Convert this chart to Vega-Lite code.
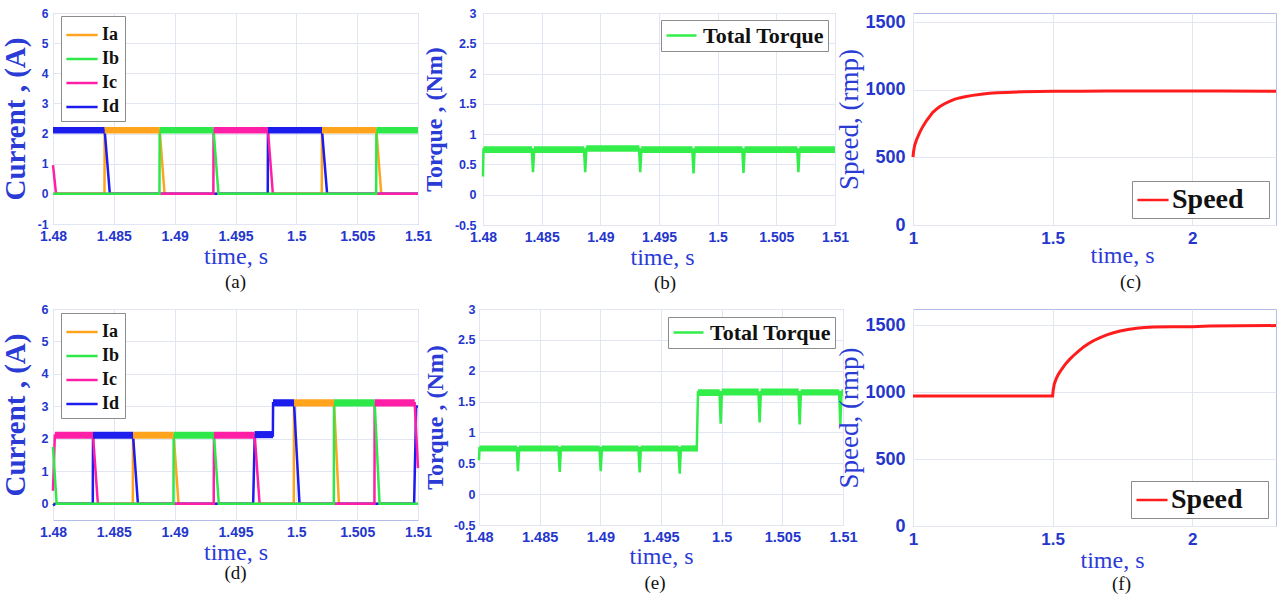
{
  "$schema": "https://vega.github.io/schema/vega-lite/v6.json",
  "background": "white",
  "padding": {"left": 0, "top": 6, "right": 0, "bottom": 0},
  "config": {
    "view": {"stroke": "#b4bdea", "strokeWidth": 1},
    "axis": {
      "grid": true, "gridColor": "#e2e6f3", "gridWidth": 1, "domain": false, "ticks": false, "tickCount": 20,
      "labelFont": "Liberation Sans", "labelFontWeight": "bold", "labelColor": "#2436cc",
      "labelFlush": false, "labelOverlap": false, "labelExpr": "'' + datum.value",
      "titleFont": "Liberation Serif", "titleColor": "#2a3bd6", "titleFontWeight": "normal"
    },
    "legend": {
      "title": null, "symbolStrokeWidth": 2.5, "labelFont": "Liberation Serif", "labelFontWeight": "bold",
      "labelColor": "#111111", "strokeColor": "#8c8c8c", "fillColor": "white", "labelLimit": 0, "direction": "vertical"
    },
    "title": {"font": "Liberation Serif", "fontSize": 19, "fontWeight": "normal", "color": "#111111", "orient": "bottom", "frame": "group", "offset": 5}
  },
  "datasets": {
    "curA": [
      {"p": "Ia", "t": 1.48, "v": 0}, {"p": "Ia", "t": 1.48423, "v": 0}, {"p": "Ia", "t": 1.48425, "v": 2.1}, {"p": "Ia", "t": 1.48877, "v": 2.1}, {"p": "Ia", "t": 1.48917, "v": 0}, {"p": "Ia", "t": 1.50209, "v": 0}, {"p": "Ia", "t": 1.50211, "v": 2.1}, {"p": "Ia", "t": 1.50658, "v": 2.1}, {"p": "Ia", "t": 1.50698, "v": 0}, {"p": "Ia", "t": 1.51, "v": 0},
      {"p": "Id", "t": 1.48, "v": 2.1}, {"p": "Id", "t": 1.48425, "v": 2.1}, {"p": "Id", "t": 1.48467, "v": 0}, {"p": "Id", "t": 1.49765, "v": 0}, {"p": "Id", "t": 1.49767, "v": 2.1}, {"p": "Id", "t": 1.50211, "v": 2.1}, {"p": "Id", "t": 1.50253, "v": 0}, {"p": "Id", "t": 1.51, "v": 0},
      {"p": "Ic", "t": 1.48, "v": 0.95}, {"p": "Ic", "t": 1.48025, "v": 0}, {"p": "Ic", "t": 1.49318, "v": 0}, {"p": "Ic", "t": 1.4932, "v": 2.1}, {"p": "Ic", "t": 1.49767, "v": 2.1}, {"p": "Ic", "t": 1.49807, "v": 0}, {"p": "Ic", "t": 1.51, "v": 0},
      {"p": "Ib", "t": 1.48, "v": 0}, {"p": "Ib", "t": 1.48875, "v": 0}, {"p": "Ib", "t": 1.48877, "v": 2.1}, {"p": "Ib", "t": 1.4932, "v": 2.1}, {"p": "Ib", "t": 1.4936, "v": 0}, {"p": "Ib", "t": 1.50656, "v": 0}, {"p": "Ib", "t": 1.50658, "v": 2.1}, {"p": "Ib", "t": 1.51, "v": 2.1}
    ],
    "bandA": [
      {"p": "Id", "t0": 1.48, "t1": 1.48425, "lo": 2.0, "hi": 2.22},
      {"p": "Ia", "t0": 1.48425, "t1": 1.48877, "lo": 2.0, "hi": 2.22},
      {"p": "Ib", "t0": 1.48877, "t1": 1.4932, "lo": 2.0, "hi": 2.22},
      {"p": "Ic", "t0": 1.4932, "t1": 1.49767, "lo": 2.0, "hi": 2.22},
      {"p": "Id", "t0": 1.49767, "t1": 1.50211, "lo": 2.0, "hi": 2.22},
      {"p": "Ia", "t0": 1.50211, "t1": 1.50658, "lo": 2.0, "hi": 2.22},
      {"p": "Ib", "t0": 1.50658, "t1": 1.51, "lo": 2.0, "hi": 2.22}
    ],
    "curD": [
      {"p": "Ia", "t": 1.48, "v": 0}, {"p": "Ia", "t": 1.48656, "v": 0}, {"p": "Ia", "t": 1.48658, "v": 2.1}, {"p": "Ia", "t": 1.48992, "v": 2.1}, {"p": "Ia", "t": 1.49032, "v": 0}, {"p": "Ia", "t": 1.49979, "v": 0}, {"p": "Ia", "t": 1.49981, "v": 3.1}, {"p": "Ia", "t": 1.5031, "v": 3.1}, {"p": "Ia", "t": 1.5035, "v": 0}, {"p": "Ia", "t": 1.51, "v": 0},
      {"p": "Id", "t": 1.48, "v": -0.05}, {"p": "Id", "t": 1.4802, "v": 0}, {"p": "Id", "t": 1.48327, "v": 0}, {"p": "Id", "t": 1.48329, "v": 2.1}, {"p": "Id", "t": 1.48658, "v": 2.1}, {"p": "Id", "t": 1.48698, "v": 0}, {"p": "Id", "t": 1.49645, "v": 0}, {"p": "Id", "t": 1.49658, "v": 2.1}, {"p": "Id", "t": 1.49807, "v": 2.1}, {"p": "Id", "t": 1.49809, "v": 3.1}, {"p": "Id", "t": 1.49981, "v": 3.1}, {"p": "Id", "t": 1.50026, "v": 0}, {"p": "Id", "t": 1.50968, "v": 0}, {"p": "Id", "t": 1.50985, "v": 3.0}, {"p": "Id", "t": 1.51, "v": 3.0},
      {"p": "Ic", "t": 1.48, "v": 0.4}, {"p": "Ic", "t": 1.48015, "v": 2.1}, {"p": "Ic", "t": 1.48329, "v": 2.1}, {"p": "Ic", "t": 1.48369, "v": 0}, {"p": "Ic", "t": 1.49321, "v": 0}, {"p": "Ic", "t": 1.49323, "v": 2.1}, {"p": "Ic", "t": 1.49658, "v": 2.1}, {"p": "Ic", "t": 1.49698, "v": 0}, {"p": "Ic", "t": 1.50642, "v": 0}, {"p": "Ic", "t": 1.50644, "v": 3.1}, {"p": "Ic", "t": 1.50973, "v": 3.1}, {"p": "Ic", "t": 1.51, "v": 1.1},
      {"p": "Ib", "t": 1.48, "v": 1.75}, {"p": "Ib", "t": 1.4803, "v": 0}, {"p": "Ib", "t": 1.4899, "v": 0}, {"p": "Ib", "t": 1.48992, "v": 2.1}, {"p": "Ib", "t": 1.49323, "v": 2.1}, {"p": "Ib", "t": 1.49363, "v": 0}, {"p": "Ib", "t": 1.50308, "v": 0}, {"p": "Ib", "t": 1.5031, "v": 3.1}, {"p": "Ib", "t": 1.50644, "v": 3.1}, {"p": "Ib", "t": 1.50684, "v": 0}, {"p": "Ib", "t": 1.51, "v": 0}
    ],
    "bandD": [
      {"p": "Ic", "t0": 1.48015, "t1": 1.48329, "lo": 2.0, "hi": 2.22},
      {"p": "Id", "t0": 1.48329, "t1": 1.48658, "lo": 2.0, "hi": 2.22},
      {"p": "Ia", "t0": 1.48658, "t1": 1.48992, "lo": 2.0, "hi": 2.22},
      {"p": "Ib", "t0": 1.48992, "t1": 1.49323, "lo": 2.0, "hi": 2.22},
      {"p": "Ic", "t0": 1.49323, "t1": 1.49658, "lo": 2.0, "hi": 2.22},
      {"p": "Id", "t0": 1.49658, "t1": 1.49808, "lo": 2.02, "hi": 2.24},
      {"p": "Id", "t0": 1.49808, "t1": 1.49981, "lo": 3.0, "hi": 3.22},
      {"p": "Ia", "t0": 1.49981, "t1": 1.5031, "lo": 3.0, "hi": 3.22},
      {"p": "Ib", "t0": 1.5031, "t1": 1.50644, "lo": 3.0, "hi": 3.22},
      {"p": "Ic", "t0": 1.50644, "t1": 1.50973, "lo": 3.0, "hi": 3.22}
    ],
    "torB": [
      {"s": "Total Torque", "t": 1.48, "v": 0.3}, {"s": "Total Torque", "t": 1.48004, "v": 0.745},
      {"s": "Total Torque", "t": 1.48416, "v": 0.745}, {"s": "Total Torque", "t": 1.48426, "v": 0.37}, {"s": "Total Torque", "t": 1.48436, "v": 0.745},
      {"s": "Total Torque", "t": 1.48861, "v": 0.745}, {"s": "Total Torque", "t": 1.48871, "v": 0.37}, {"s": "Total Torque", "t": 1.48881, "v": 0.76},
      {"s": "Total Torque", "t": 1.4933, "v": 0.76}, {"s": "Total Torque", "t": 1.4934, "v": 0.37}, {"s": "Total Torque", "t": 1.4935, "v": 0.745},
      {"s": "Total Torque", "t": 1.49784, "v": 0.745}, {"s": "Total Torque", "t": 1.49794, "v": 0.35}, {"s": "Total Torque", "t": 1.49804, "v": 0.745},
      {"s": "Total Torque", "t": 1.5021, "v": 0.745}, {"s": "Total Torque", "t": 1.5022, "v": 0.36}, {"s": "Total Torque", "t": 1.5023, "v": 0.745},
      {"s": "Total Torque", "t": 1.50678, "v": 0.745}, {"s": "Total Torque", "t": 1.50688, "v": 0.37}, {"s": "Total Torque", "t": 1.50698, "v": 0.745},
      {"s": "Total Torque", "t": 1.51, "v": 0.745}
    ],
    "bandB": [
      {"t0": 1.48004, "t1": 1.48418, "lo": 0.69, "hi": 0.8},
      {"t0": 1.48434, "t1": 1.48863, "lo": 0.69, "hi": 0.8},
      {"t0": 1.48879, "t1": 1.49332, "lo": 0.71, "hi": 0.815},
      {"t0": 1.49348, "t1": 1.49786, "lo": 0.69, "hi": 0.8},
      {"t0": 1.49802, "t1": 1.50212, "lo": 0.69, "hi": 0.8},
      {"t0": 1.50228, "t1": 1.5068, "lo": 0.69, "hi": 0.8},
      {"t0": 1.50696, "t1": 1.51, "lo": 0.69, "hi": 0.8}
    ],
    "torE": [
      {"s": "Total Torque", "t": 1.48, "v": 0.55}, {"s": "Total Torque", "t": 1.48004, "v": 0.745},
      {"s": "Total Torque", "t": 1.48311, "v": 0.745}, {"s": "Total Torque", "t": 1.48321, "v": 0.37}, {"s": "Total Torque", "t": 1.48331, "v": 0.745},
      {"s": "Total Torque", "t": 1.48655, "v": 0.745}, {"s": "Total Torque", "t": 1.48665, "v": 0.36}, {"s": "Total Torque", "t": 1.48675, "v": 0.745},
      {"s": "Total Torque", "t": 1.48993, "v": 0.745}, {"s": "Total Torque", "t": 1.49003, "v": 0.37}, {"s": "Total Torque", "t": 1.49013, "v": 0.745},
      {"s": "Total Torque", "t": 1.49314, "v": 0.745}, {"s": "Total Torque", "t": 1.49324, "v": 0.35}, {"s": "Total Torque", "t": 1.49334, "v": 0.745},
      {"s": "Total Torque", "t": 1.49644, "v": 0.745}, {"s": "Total Torque", "t": 1.49654, "v": 0.33}, {"s": "Total Torque", "t": 1.49664, "v": 0.745},
      {"s": "Total Torque", "t": 1.49795, "v": 0.745}, {"s": "Total Torque", "t": 1.49805, "v": 1.65},
      {"s": "Total Torque", "t": 1.49982, "v": 1.65}, {"s": "Total Torque", "t": 1.49992, "v": 1.14}, {"s": "Total Torque", "t": 1.50002, "v": 1.65},
      {"s": "Total Torque", "t": 1.50303, "v": 1.65}, {"s": "Total Torque", "t": 1.50313, "v": 1.16}, {"s": "Total Torque", "t": 1.50323, "v": 1.65},
      {"s": "Total Torque", "t": 1.50633, "v": 1.65}, {"s": "Total Torque", "t": 1.50643, "v": 1.13}, {"s": "Total Torque", "t": 1.50653, "v": 1.65},
      {"s": "Total Torque", "t": 1.50968, "v": 1.65}, {"s": "Total Torque", "t": 1.50978, "v": 1.13}, {"s": "Total Torque", "t": 1.50988, "v": 1.65},
      {"s": "Total Torque", "t": 1.51, "v": 1.65}
    ],
    "bandE": [
      {"t0": 1.48004, "t1": 1.48313, "lo": 0.69, "hi": 0.79},
      {"t0": 1.48329, "t1": 1.48657, "lo": 0.69, "hi": 0.79},
      {"t0": 1.48673, "t1": 1.48995, "lo": 0.69, "hi": 0.79},
      {"t0": 1.49011, "t1": 1.49316, "lo": 0.69, "hi": 0.79},
      {"t0": 1.49332, "t1": 1.49646, "lo": 0.69, "hi": 0.79},
      {"t0": 1.49662, "t1": 1.49805, "lo": 0.69, "hi": 0.79},
      {"t0": 1.49805, "t1": 1.49984, "lo": 1.59, "hi": 1.7},
      {"t0": 1.5, "t1": 1.50305, "lo": 1.6, "hi": 1.71},
      {"t0": 1.50321, "t1": 1.50635, "lo": 1.6, "hi": 1.71},
      {"t0": 1.50651, "t1": 1.5097, "lo": 1.6, "hi": 1.7},
      {"t0": 1.50986, "t1": 1.51, "lo": 1.6, "hi": 1.7}
    ],
    "spdC": [
      {"s": "Speed", "t": 1.0, "v": 502}, {"s": "Speed", "t": 1.002, "v": 545}, {"s": "Speed", "t": 1.006, "v": 590}, {"s": "Speed", "t": 1.012, "v": 628},
      {"s": "Speed", "t": 1.024, "v": 686}, {"s": "Speed", "t": 1.036, "v": 732}, {"s": "Speed", "t": 1.048, "v": 772}, {"s": "Speed", "t": 1.06, "v": 805},
      {"s": "Speed", "t": 1.071, "v": 834}, {"s": "Speed", "t": 1.083, "v": 857}, {"s": "Speed", "t": 1.095, "v": 876}, {"s": "Speed", "t": 1.113, "v": 898},
      {"s": "Speed", "t": 1.131, "v": 916}, {"s": "Speed", "t": 1.148, "v": 930}, {"s": "Speed", "t": 1.166, "v": 941}, {"s": "Speed", "t": 1.19, "v": 952},
      {"s": "Speed", "t": 1.214, "v": 960}, {"s": "Speed", "t": 1.244, "v": 968}, {"s": "Speed", "t": 1.274, "v": 975}, {"s": "Speed", "t": 1.303, "v": 979},
      {"s": "Speed", "t": 1.333, "v": 982}, {"s": "Speed", "t": 1.393, "v": 987}, {"s": "Speed", "t": 1.45, "v": 989}, {"s": "Speed", "t": 1.5, "v": 990},
      {"s": "Speed", "t": 1.6, "v": 991}, {"s": "Speed", "t": 1.69, "v": 992}, {"s": "Speed", "t": 1.9, "v": 992}, {"s": "Speed", "t": 2.1, "v": 992}, {"s": "Speed", "t": 2.3, "v": 991}
    ],
    "spdF": [
      {"s": "Speed", "t": 1.0, "v": 971}, {"s": "Speed", "t": 1.5, "v": 971}, {"s": "Speed", "t": 1.502, "v": 1012}, {"s": "Speed", "t": 1.506, "v": 1061},
      {"s": "Speed", "t": 1.513, "v": 1100}, {"s": "Speed", "t": 1.521, "v": 1134}, {"s": "Speed", "t": 1.533, "v": 1172}, {"s": "Speed", "t": 1.545, "v": 1207},
      {"s": "Speed", "t": 1.56, "v": 1242}, {"s": "Speed", "t": 1.575, "v": 1273}, {"s": "Speed", "t": 1.593, "v": 1306}, {"s": "Speed", "t": 1.611, "v": 1337},
      {"s": "Speed", "t": 1.628, "v": 1361}, {"s": "Speed", "t": 1.646, "v": 1383}, {"s": "Speed", "t": 1.67, "v": 1407}, {"s": "Speed", "t": 1.694, "v": 1427},
      {"s": "Speed", "t": 1.718, "v": 1443}, {"s": "Speed", "t": 1.742, "v": 1456}, {"s": "Speed", "t": 1.77, "v": 1467}, {"s": "Speed", "t": 1.801, "v": 1476},
      {"s": "Speed", "t": 1.83, "v": 1481}, {"s": "Speed", "t": 1.861, "v": 1485}, {"s": "Speed", "t": 1.93, "v": 1487}, {"s": "Speed", "t": 2.0, "v": 1488},
      {"s": "Speed", "t": 2.063, "v": 1493}, {"s": "Speed", "t": 2.17, "v": 1495}, {"s": "Speed", "t": 2.3, "v": 1496}
    ]
  },
  "spacing": 8,
  "resolve": {"scale": {"x": "independent", "y": "independent", "color": "independent", "fill": "independent"}, "legend": {"color": "independent"}, "axis": {"x": "independent", "y": "independent"}},
  "vconcat": [
    {
      "spacing": -15,
      "resolve": {"scale": {"x": "independent", "y": "independent", "color": "independent", "fill": "independent"}, "legend": {"color": "independent"}},
      "hconcat": [
        {
          "spacing": -12,
          "resolve": {"scale": {"x": "independent", "y": "independent", "color": "independent", "fill": "independent"}, "legend": {"color": "independent"}},
          "hconcat": [
            {
              "width": 365, "height": 211,
              "title": {"text": "(a)"},
              "layer": [
                {
                  "data": {"name": "curA"},
                  "mark": {"type": "line", "strokeWidth": 2.5},
                  "encoding": {
                    "x": {"field": "t", "type": "quantitative", "title": "time, s", "scale": {"domain": [1.48, 1.51], "nice": false, "zero": false},
                      "axis": {"values": [1.48, 1.485, 1.49, 1.495, 1.5, 1.505, 1.51], "tickCount": 20, "labelOverlap": false, "labelFontSize": 14, "labelPadding": 5, "titleFontSize": 24, "titlePadding": 1}},
                    "y": {"field": "v", "type": "quantitative", "title": "Current , (A)", "scale": {"domain": [-1, 6], "nice": false, "zero": false},
                      "axis": {"values": [-1, 0, 1, 2, 3, 4, 5, 6], "tickCount": 20, "labelOverlap": false, "labelFontSize": 12, "labelPadding": 5, "titleFontSize": 29, "titleFontWeight": "bold", "titlePadding": 7}},
                    "color": {"field": "p", "type": "nominal", "scale": {"domain": ["Ia", "Ib", "Ic", "Id"], "range": ["#ffa41c", "#2ee84a", "#ff1fa6", "#1c1ced"]},
                      "legend": {"orient": "none", "legendX": 8, "legendY": 3, "symbolType": "M-1.25,0H1.25", "symbolSize": 625, "symbolOffset": 2, "labelOffset": 6, "labelFontSize": 18, "rowPadding": 1, "padding": 5, "labelExpr": "datum.label + '\u00a0'"}}
                  }
                },
                {
                  "data": {"name": "bandA"},
                  "mark": {"type": "rect"},
                  "encoding": {
                    "x": {"field": "t0", "type": "quantitative", "title": "time, s"}, "x2": {"field": "t1"},
                    "y": {"field": "lo", "type": "quantitative", "title": "Current , (A)"}, "y2": {"field": "hi"},
                    "fill": {"field": "p", "type": "nominal", "scale": {"domain": ["Ia", "Ib", "Ic", "Id"], "range": ["#ffa41c", "#2ee84a", "#ff1fa6", "#1c1ced"]}, "legend": null}
                  }
                }
              ]
            },
            {
              "width": 352, "height": 212,
              "title": {"text": "(b)", "dx": 6},
              "layer": [
                {
                  "data": {"name": "torB"},
                  "mark": {"type": "line", "strokeWidth": 2.5},
                  "encoding": {
                    "x": {"field": "t", "type": "quantitative", "title": "time, s", "scale": {"domain": [1.48, 1.51], "nice": false, "zero": false},
                      "axis": {"values": [1.48, 1.485, 1.49, 1.495, 1.5, 1.505, 1.51], "tickCount": 20, "labelOverlap": false, "labelFontSize": 14, "labelPadding": 5, "titleFontSize": 24, "titlePadding": 1, "titleX": 179}},
                    "y": {"field": "v", "type": "quantitative", "title": "Torque , (Nm)", "scale": {"domain": [-0.5, 3], "nice": false, "zero": false},
                      "axis": {"values": [-0.5, 0, 0.5, 1, 1.5, 2, 2.5, 3], "tickCount": 20, "labelOverlap": false, "labelFontSize": 12.5, "labelPadding": 7, "titleFontSize": 24, "titleFontWeight": "bold", "titlePadding": 8}},
                    "color": {"field": "s", "type": "nominal", "scale": {"domain": ["Total Torque"], "range": ["#33ee4a"]},
                      "legend": {"orient": "top-right", "offset": 7, "symbolType": "M-1.5,0H1.5", "symbolSize": 400, "symbolOffset": 5, "labelOffset": 10, "labelFontSize": 22, "padding": 4}}
                  }
                },
                {
                  "data": {"name": "bandB"},
                  "mark": {"type": "rect", "color": "#33ee4a"},
                  "encoding": {
                    "x": {"field": "t0", "type": "quantitative", "title": "time, s"}, "x2": {"field": "t1"},
                    "y": {"field": "lo", "type": "quantitative", "title": "Torque , (Nm)"}, "y2": {"field": "hi"}
                  }
                }
              ]
            }
          ]
        },
        {
          "width": 363, "height": 212,
          "title": {"text": "(c)", "dx": 36, "offset": 6},
          "data": {"name": "spdC"},
          "mark": {"type": "line", "strokeWidth": 3},
          "encoding": {
            "x": {"field": "t", "type": "quantitative", "title": "time, s", "scale": {"domain": [1, 2.3], "nice": false, "zero": false},
              "axis": {"values": [1, 1.5, 2], "labelOverlap": false, "labelFontSize": 17, "labelPadding": 5, "titleFontSize": 24, "titlePadding": -3, "titleX": 209}},
            "y": {"field": "v", "type": "quantitative", "title": "Speed, (rmp)", "scale": {"domain": [0, 1570], "nice": false, "zero": false},
              "axis": {"values": [0, 500, 1000, 1500], "labelOverlap": false, "labelFontSize": 18, "labelPadding": 8, "titleFontSize": 27, "titlePadding": 1}},
            "color": {"field": "s", "type": "nominal", "scale": {"domain": ["Speed"], "range": ["#ff1c1c"]},
              "legend": {"orient": "bottom-right", "offset": 7, "symbolType": "M-1.15,0H1.15", "symbolSize": 729, "symbolOffset": 2, "labelOffset": 4, "labelFontSize": 28, "padding": 4, "labelExpr": "datum.label + '\u2800'"}}
          }
        }
      ]
    },
    {
      "spacing": -23,
      "resolve": {"scale": {"x": "independent", "y": "independent", "color": "independent", "fill": "independent"}, "legend": {"color": "independent"}},
      "hconcat": [
        {
          "spacing": -11,
          "resolve": {"scale": {"x": "independent", "y": "independent", "color": "independent", "fill": "independent"}, "legend": {"color": "independent"}},
          "hconcat": [
            {
              "width": 365, "height": 211,
              "title": {"text": "(d)", "offset": 0},
              "layer": [
                {
                  "data": {"name": "curD"},
                  "mark": {"type": "line", "strokeWidth": 2.5},
                  "encoding": {
                    "x": {"field": "t", "type": "quantitative", "title": "time, s", "scale": {"domain": [1.48, 1.51], "nice": false, "zero": false},
                      "axis": {"values": [1.48, 1.485, 1.49, 1.495, 1.5, 1.505, 1.51], "tickCount": 20, "labelOverlap": false, "labelFontSize": 14, "labelPadding": 5, "titleFontSize": 24, "titlePadding": 1}},
                    "y": {"field": "v", "type": "quantitative", "title": "Current , (A)", "scale": {"domain": [-0.5, 6], "nice": false, "zero": false},
                      "axis": {"values": [0, 1, 2, 3, 4, 5, 6], "tickCount": 20, "labelOverlap": false, "labelFontSize": 12.5, "labelPadding": 5, "titleFontSize": 29, "titleFontWeight": "bold", "titlePadding": 11}},
                    "color": {"field": "p", "type": "nominal", "scale": {"domain": ["Ia", "Ib", "Ic", "Id"], "range": ["#ffa41c", "#2ee84a", "#ff1fa6", "#1c1ced"]},
                      "legend": {"orient": "none", "legendX": 8, "legendY": 4, "symbolType": "M-1.25,0H1.25", "symbolSize": 625, "symbolOffset": 2, "labelOffset": 6, "labelFontSize": 18, "rowPadding": 1, "padding": 5, "labelExpr": "datum.label + '\u00a0'"}}
                  }
                },
                {
                  "data": {"name": "bandD"},
                  "mark": {"type": "rect"},
                  "encoding": {
                    "x": {"field": "t0", "type": "quantitative", "title": "time, s"}, "x2": {"field": "t1"},
                    "y": {"field": "lo", "type": "quantitative", "title": "Current , (A)"}, "y2": {"field": "hi"},
                    "fill": {"field": "p", "type": "nominal", "scale": {"domain": ["Ia", "Ib", "Ic", "Id"], "range": ["#ffa41c", "#2ee84a", "#ff1fa6", "#1c1ced"]}, "legend": null}
                  }
                }
              ]
            },
            {
              "width": 364, "height": 216,
              "title": {"text": "(e)", "dx": -6},
              "layer": [
                {
                  "data": {"name": "torE"},
                  "mark": {"type": "line", "strokeWidth": 2.5},
                  "encoding": {
                    "x": {"field": "t", "type": "quantitative", "title": "time, s", "scale": {"domain": [1.48, 1.51], "nice": false, "zero": false},
                      "axis": {"values": [1.48, 1.485, 1.49, 1.495, 1.5, 1.505, 1.51], "tickCount": 20, "labelOverlap": false, "labelFontSize": 14.5, "labelPadding": 5, "titleFontSize": 24, "titlePadding": 1}},
                    "y": {"field": "v", "type": "quantitative", "title": "Torque , (Nm)", "scale": {"domain": [-0.5, 3], "nice": false, "zero": false},
                      "axis": {"values": [-0.5, 0, 0.5, 1, 1.5, 2, 2.5, 3], "tickCount": 20, "labelOverlap": false, "labelFontSize": 12.5, "labelPadding": 4, "titleFontSize": 24, "titleFontWeight": "bold", "titlePadding": 6}},
                    "color": {"field": "s", "type": "nominal", "scale": {"domain": ["Total Torque"], "range": ["#33ee4a"]},
                      "legend": {"orient": "top-right", "offset": 8, "symbolType": "M-1.5,0H1.5", "symbolSize": 400, "symbolOffset": 5, "labelOffset": 10, "labelFontSize": 22, "padding": 4}}
                  }
                },
                {
                  "data": {"name": "bandE"},
                  "mark": {"type": "rect", "color": "#33ee4a"},
                  "encoding": {
                    "x": {"field": "t0", "type": "quantitative", "title": "time, s"}, "x2": {"field": "t1"},
                    "y": {"field": "lo", "type": "quantitative", "title": "Torque , (Nm)"}, "y2": {"field": "hi"}
                  }
                }
              ]
            }
          ]
        },
        {
          "width": 363, "height": 217,
          "title": {"text": "(f)", "dx": 27, "offset": 3},
          "data": {"name": "spdF"},
          "mark": {"type": "line", "strokeWidth": 3},
          "encoding": {
            "x": {"field": "t", "type": "quantitative", "title": "time, s", "scale": {"domain": [1, 2.3], "nice": false, "zero": false},
              "axis": {"values": [1, 1.5, 2], "labelOverlap": false, "labelFontSize": 17, "labelPadding": 5, "titleFontSize": 24, "titlePadding": 1, "titleX": 199}},
            "y": {"field": "v", "type": "quantitative", "title": "Speed, (rmp)", "scale": {"domain": [0, 1620], "nice": false, "zero": false},
              "axis": {"values": [0, 500, 1000, 1500], "labelOverlap": false, "labelFontSize": 18, "labelPadding": 8, "titleFontSize": 27, "titlePadding": 1}},
            "color": {"field": "s", "type": "nominal", "scale": {"domain": ["Speed"], "range": ["#ff1c1c"]},
              "legend": {"orient": "bottom-right", "offset": 8, "symbolType": "M-1.15,0H1.15", "symbolSize": 729, "symbolOffset": 2, "labelOffset": 4, "labelFontSize": 28, "padding": 4, "labelExpr": "datum.label + '\u2800'"}}
          }
        }
      ]
    }
  ]
}
